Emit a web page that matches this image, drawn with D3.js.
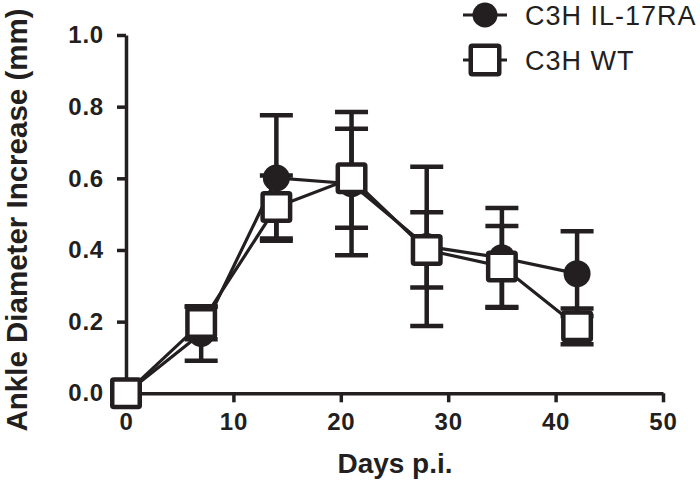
<!DOCTYPE html>
<html>
<head>
<meta charset="utf-8">
<script src="https://cdn.jsdelivr.net/npm/d3@7"></script>
<style>
  html, body { margin: 0; padding: 0; background: #fff; }
  svg { display: block; }
</style>
</head>
<body>
<div id="chart"></div>
<script>
// ---- data ----
const days = [0, 7, 14, 21, 28, 35, 42];
const il17raMean = [0, 0.167, 0.601, 0.585, 0.41, 0.378, 0.334];
const il17raSem  = [0, 0.076, 0.175, 0.200, 0.222, 0.139, 0.118];
const wtMean     = [0, 0.196, 0.520, 0.600, 0.400, 0.354, 0.187];
const wtSem      = [0, 0.045, 0.088, 0.138, 0.105, 0.113, 0.050];
const xTicks = [0, 10, 20, 30, 40, 50];
const yTicks = [0.0, 0.2, 0.4, 0.6, 0.8, 1.0];
const seriesNames = ["C3H IL-17RA", "C3H WT"];
const xTitle = "Days p.i.";
const yTitle = "Ankle Diameter Increase (mm)";

// ---- layout ----
const W = 700, H = 484;
const FONT = "'Liberation Sans', Arial, Helvetica, sans-serif";
const ink = "#231f20";

const svg = d3.select("#chart").append("svg")
  .attr("width", W).attr("height", H);

const x = d3.scaleLinear().domain([0, 50]).range([126, 663]);
const y = d3.scaleLinear().domain([0, 1]).range([393.3, 35]);

// axes
const xAxis = d3.axisBottom(x).tickValues(xTicks).tickFormat(d3.format("d"))
  .tickSize(9).tickPadding(11).tickSizeOuter(0);
const yAxis = d3.axisLeft(y).tickValues(yTicks).tickFormat(d3.format(".1f"))
  .tickSize(9).tickPadding(13).tickSizeOuter(0);

const gx = svg.append("g").attr("transform", `translate(0,${y(0)})`).call(xAxis);
const gy = svg.append("g").attr("transform", `translate(${x(0)},0)`).call(yAxis);
[gx, gy].forEach(g => {
  g.select(".domain").attr("stroke", ink).attr("stroke-width", 3.5);
  g.selectAll(".tick line").attr("stroke", ink).attr("stroke-width", 3.5);
  g.selectAll(".tick text").attr("fill", ink)
    .style("font-family", FONT).style("font-weight", "bold").style("font-size", "24px")
    .style("letter-spacing", "0.8px");
});

// titles
svg.append("text")
  .attr("x", 395).attr("y", 473)
  .attr("text-anchor", "middle")
  .style("font-family", FONT).style("font-weight", "bold").style("font-size", "28px")
  .attr("fill", ink).text(xTitle);

svg.append("text")
  .attr("transform", "translate(27,220) rotate(-90)")
  .attr("text-anchor", "middle")
  .style("font-family", FONT).style("font-weight", "bold").style("font-size", "29.5px")
  .attr("fill", ink).text(yTitle);

// series
const series = [
  { name: seriesNames[0], mean: il17raMean, sem: il17raSem, symbol: "circle" },
  { name: seriesNames[1], mean: wtMean, sem: wtSem, symbol: "square" }
];
const line = d3.line().x(d => x(d.day)).y(d => y(d.mean));
const pts = s => days.map((d, i) => ({ day: d, mean: s.mean[i], sem: s.sem[i] }));

// connecting lines
series.forEach(s => {
  svg.append("path").datum(pts(s))
    .attr("d", line).attr("fill", "none")
    .attr("stroke", ink).attr("stroke-width", 3.2);
});

// error bars
const capW = 16.5;
series.forEach(s => {
  const g = svg.append("g").attr("stroke", ink).attr("stroke-width", 4.5);
  pts(s).filter(d => d.sem > 0).forEach(d => {
    g.append("line").attr("x1", x(d.day)).attr("x2", x(d.day))
      .attr("y1", y(d.mean - d.sem)).attr("y2", y(d.mean + d.sem));
    [d.mean - d.sem, d.mean + d.sem].forEach(v => {
      g.append("line").attr("x1", x(d.day) - capW).attr("x2", x(d.day) + capW)
        .attr("y1", y(v)).attr("y2", y(v));
    });
  });
});

// markers
function drawMarker(g, symbol, cx, cy, size) {
  if (symbol === "circle") {
    g.append("circle").attr("cx", cx).attr("cy", cy).attr("r", size / 2)
      .attr("fill", ink);
  } else {
    const s = size - 4.5;
    g.append("rect").attr("x", cx - s / 2).attr("y", cy - s / 2)
      .attr("width", s).attr("height", s).attr("rx", 1.5)
      .attr("fill", "#fff").attr("stroke", ink).attr("stroke-width", 4.5);
  }
}
series.forEach(s => {
  const g = svg.append("g");
  pts(s).forEach(d => drawMarker(g, s.symbol, x(d.day), y(d.mean), s.symbol === "circle" ? 27 : 32));
});

// legend
const legendY = [15, 60];
series.forEach((s, i) => {
  const g = svg.append("g");
  const cx = 485, cy = legendY[i];
  g.append("line").attr("x1", 463).attr("x2", 507).attr("y1", cy).attr("y2", cy)
    .attr("stroke", ink).attr("stroke-width", 3.2);
  drawMarker(g, s.symbol, cx, cy, s.symbol === "circle" ? 25 : 33);
  g.append("text").attr("x", 525).attr("y", cy + 9.5)
    .style("font-family", FONT).style("font-size", "27px").style("letter-spacing", "1px")
    .attr("fill", ink).text(s.name);
});
</script>
</body>
</html>
